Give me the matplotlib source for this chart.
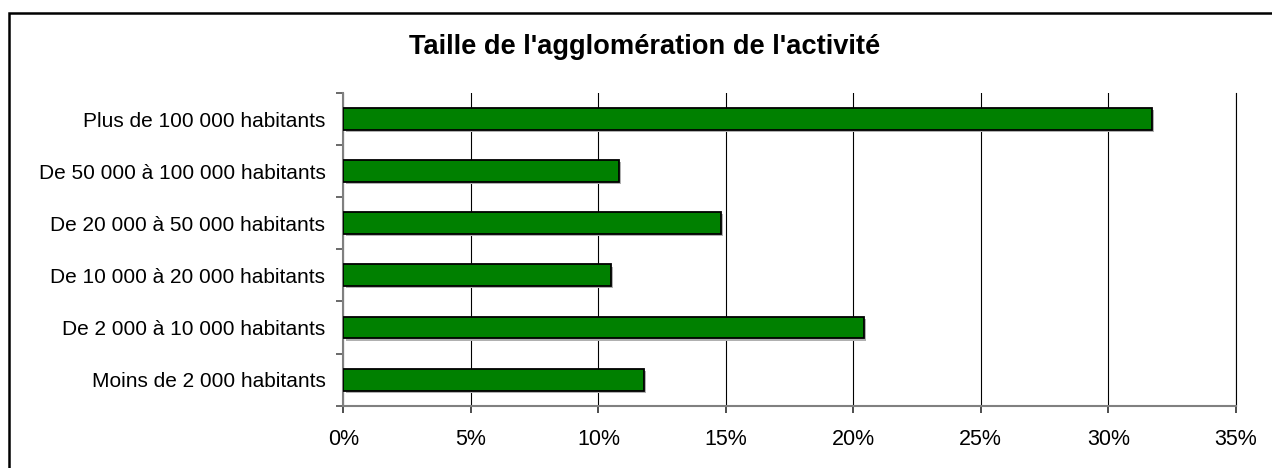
import matplotlib.pyplot as plt
import matplotlib.patheffects as pe
from matplotlib.patches import Rectangle
from matplotlib.ticker import FuncFormatter, FixedLocator

categories = [
    "Moins de 2 000 habitants",
    "De 2 000 à 10 000 habitants",
    "De 10 000 à 20 000 habitants",
    "De 20 000 à 50 000 habitants",
    "De 50 000 à 100 000 habitants",
    "Plus de 100 000 habitants",
]
values = [11.8, 20.4, 10.5, 14.8, 10.8, 31.7]
xticks = [0, 5, 10, 15, 20, 25, 30, 35]

plt.rcParams["font.family"] = ["Liberation Sans", "DejaVu Sans"]

fig = plt.figure(figsize=(12.72, 4.68), dpi=100)
ax = fig.add_axes([0.270, 0.1331, 0.7015, 0.6682])

y = list(range(len(categories)))
bars = ax.barh(y, values, height=0.42, color="#008000", edgecolor="black",
               linewidth=1.3, zorder=3)
for b in bars:
    b.set_path_effects([pe.SimplePatchShadow(offset=(1.5, -1.5), shadow_rgbFace="#b0b0b0", alpha=1.0),
                        pe.Normal()])

ax.set_xlim(0, 35)
ax.set_ylim(-0.5, len(categories) - 0.5)
ax.set_xticks(xticks)
ax.xaxis.set_major_formatter(FuncFormatter(lambda v, p: "%d%%" % v))

# ticks between categories, labels centred on bars
ax.yaxis.set_major_locator(FixedLocator([i - 0.5 for i in range(len(categories) + 1)]))
ax.yaxis.set_major_formatter(FuncFormatter(lambda v, p: ""))
ax.set_yticks(y, minor=True)
ax.set_yticklabels(categories, minor=True)
ax.tick_params(axis="y", which="minor", length=0, pad=13, labelsize=15)
ax.tick_params(axis="y", which="major", length=5, width=1.2, color="#505050", direction="out")
ax.tick_params(axis="x", length=5, width=1.2, color="#303030", pad=12, labelsize=15.5)

ax.grid(axis="x", color="black", linewidth=0.8, zorder=0)
ax.set_axisbelow(True)
ax.spines["top"].set_visible(False)
ax.spines["right"].set_color("black")
ax.spines["right"].set_linewidth(0.8)
for s in ["left", "bottom"]:
    ax.spines[s].set_color("#808080")
    ax.spines[s].set_linewidth(1.5)

fig.text(0.507, 0.9, "Taille de l'agglomération de l'activité", ha="center", va="center",
         fontsize=19.6, fontweight="bold")

# chart frame: only left and top edges fall inside the image
fig.patches.append(Rectangle((9 / 1272, -0.05), 1.05, 1 - 13 / 468 + 0.05,
                             transform=fig.transFigure, fill=False,
                             edgecolor="black", linewidth=1.8))

fig.savefig("out.png", dpi=100)
